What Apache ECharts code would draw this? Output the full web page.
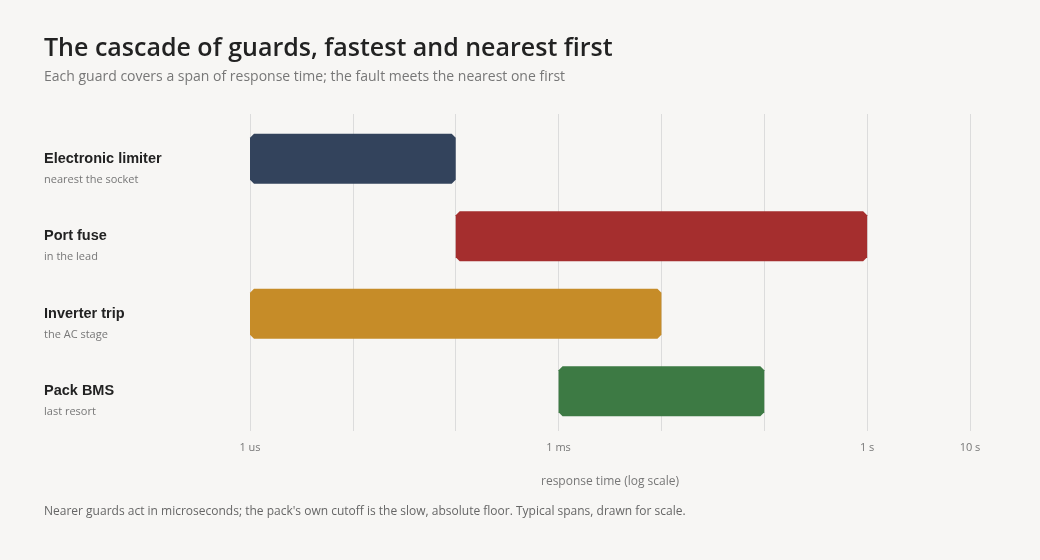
<!DOCTYPE html>
<html>
<head>
<meta charset="utf-8">
<script src="https://cdn.jsdelivr.net/npm/echarts@6/dist/echarts.min.js"></script>
<style>
html,body{margin:0;padding:0;background:#f7f6f4;}
#chart{width:1040px;height:560px;}
</style>
</head>
<body>
<div id="chart"></div>
<script>
const guards = ['Electronic limiter', 'Port fuse', 'Inverter trip', 'Pack BMS'];
const notes = ['nearest the socket', 'in the lead', 'the AC stage', 'last resort'];
const spanStart = [1e-6, 1e-4, 1e-6, 1e-3];
const spanEnd = [1e-4, 1, 1e-2, 1e-1];
const barColors = ['#33435c', '#a52e2e', '#c68c28', '#3d7a44'];
const tickLabels = {'-6': '1 us', '-3': '1 ms', '0': '1 s', '1': '10 s'};
const axisMin = 1e-6, axisMax = 10;

const data = guards.map((g, i) => ({
  value: [i, spanStart[i], spanEnd[i]],
  itemStyle: { color: barColors[i] }
}));

const chart = echarts.init(document.getElementById('chart'));
chart.setOption({
  backgroundColor: '#f7f6f4',
  title: [{
    text: 'The cascade of guards, fastest and nearest first',
    left: 39, top: 31,
    textStyle: { fontFamily: 'Open Sans', fontSize: 25, fontWeight: 600, color: '#222' }
  }, {
    text: 'Each guard covers a span of response time; the fault meets the nearest one first',
    left: 39, top: 65,
    textStyle: { fontFamily: 'Open Sans', fontSize: 14, fontWeight: 'normal', color: '#777' }
  }, {
    text: "Nearer guards act in microseconds; the pack's own cutoff is the slow, absolute floor. Typical spans, drawn for scale.",
    left: 39, top: 501,
    textStyle: { fontFamily: 'Open Sans', fontSize: 12, fontWeight: 'normal', color: '#666' }
  }],
  grid: [
    { left: 250, right: 70, top: 114, bottom: 129 },
    { left: 250, right: 70, top: 120, bottom: 130 }
  ],
  xAxis: [{
    gridIndex: 0,
    type: 'log', logBase: 10, min: axisMin, max: axisMax, splitNumber: 7,
    axisLine: { show: false }, axisTick: { show: false },
    splitLine: { show: true, lineStyle: { color: '#dcdcdc', width: 1 } },
    axisLabel: {
      margin: 11, color: '#777', fontSize: 11, fontFamily: 'Open Sans',
      formatter: v => tickLabels[String(Math.round(Math.log10(v)))] || ''
    },
    name: 'response time (log scale)', nameLocation: 'middle', nameGap: 45,
    nameTextStyle: { color: '#777', fontSize: 12, fontFamily: 'Open Sans' }
  }, {
    gridIndex: 1,
    type: 'log', logBase: 10, min: axisMin, max: axisMax, splitNumber: 7,
    show: false
  }],
  yAxis: [{
    gridIndex: 0, type: 'value', show: false
  }, {
    gridIndex: 1,
    type: 'category', data: guards, inverse: true,
    axisLine: { show: false }, axisTick: { show: false }, splitLine: { show: false },
    axisLabel: {
      align: 'left', margin: 206, verticalAlign: 'middle', padding: [20, 0, 0, 0],
      formatter: (v, i) => '{n|' + v + '}\n{s|' + notes[i] + '}',
      rich: {
        n: { fontFamily: 'Liberation Sans', fontWeight: 'bold', fontSize: 14.5, color: '#222', lineHeight: 22 },
        s: { fontFamily: 'Open Sans', fontSize: 11, color: '#777', lineHeight: 20 }
      }
    }
  }],
  series: [{
    type: 'custom',
    xAxisIndex: 1, yAxisIndex: 1,
    encode: { x: [1, 2], y: 0 },
    data: data,
    renderItem: function (params, api) {
      const idx = api.value(0);
      const p0 = api.coord([api.value(1), idx]);
      const p1 = api.coord([api.value(2), idx]);
      const h = api.size([0, 1])[1] * 0.645;
      const x0 = p0[0], x1 = p1[0], yt = p0[1] - h / 2, yb = p0[1] + h / 2;
      const c = 4;
      return {
        type: 'polygon',
        shape: { points: [[x0 + c, yt], [x1 - c, yt], [x1, yt + c], [x1, yb - c], [x1 - c, yb], [x0 + c, yb], [x0, yb - c], [x0, yt + c]] },
        style: { fill: api.visual('color') }
      };
    }
  }]
});
</script>
</body>
</html>
